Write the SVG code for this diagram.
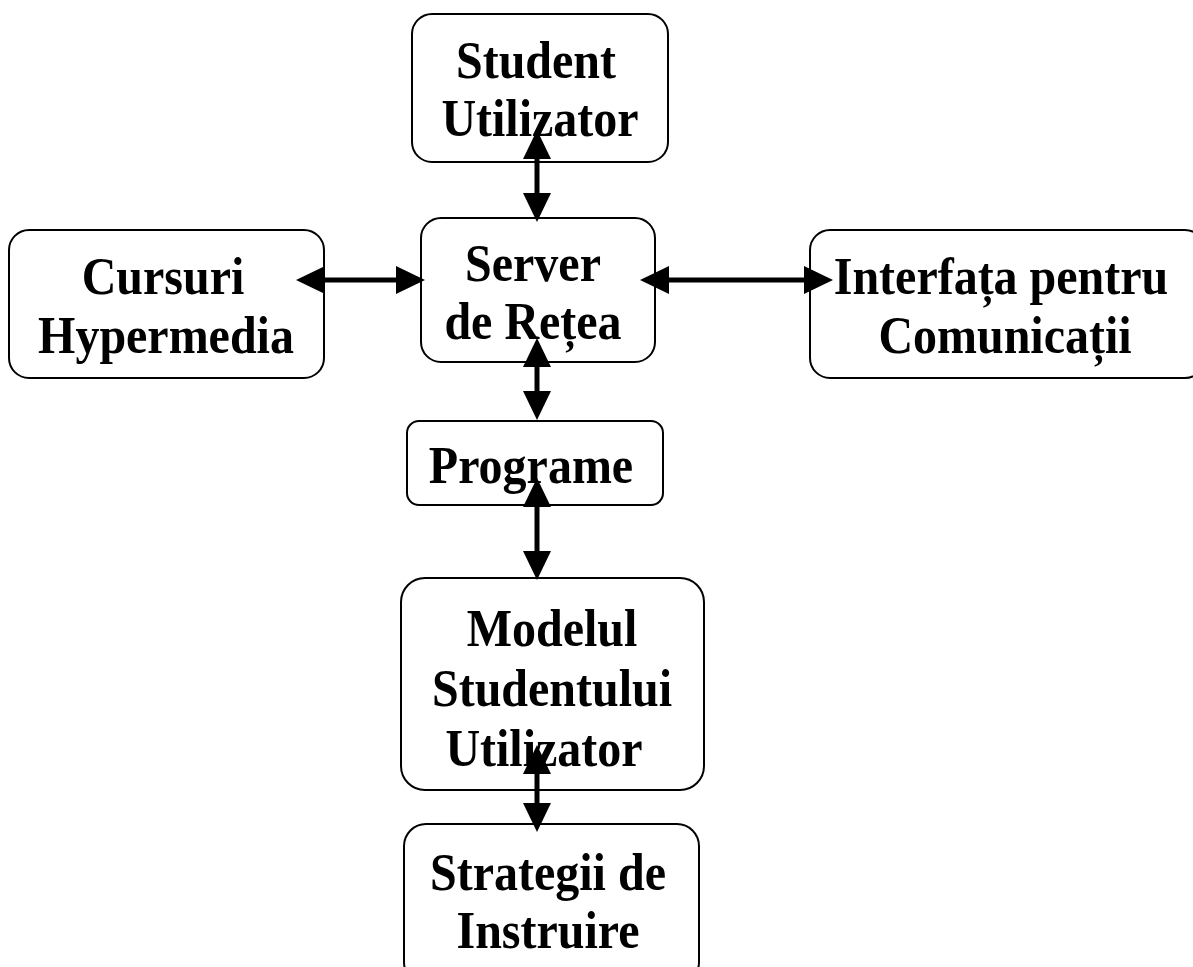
<svg xmlns="http://www.w3.org/2000/svg" width="1193" height="967" viewBox="0 0 1193 967">
<style>
.box{fill:#fff;stroke:#000;stroke-width:2}
.t{font-family:"Liberation Serif","Times New Roman",serif;font-weight:bold;font-size:48px;fill:#000;text-anchor:middle}
.c{stroke:#000;stroke-width:5;fill:none;marker-start:url(#ah);marker-end:url(#ah)}
</style>
<defs>
<marker id="ah" markerUnits="userSpaceOnUse" markerWidth="30" markerHeight="30" refX="0" refY="14" orient="auto-start-reverse" viewBox="0 0 30 28">
<path d="M0,0 L29,14 L0,28 z" fill="#000"/>
</marker>
</defs>
<g id="student">
<rect class="box" x="412" y="14" width="256" height="148" rx="20"/>
<text class="t" transform="translate(536,78) scale(1,1.1)">Student</text>
<text class="t" transform="translate(540,136) scale(1,1.1)">Utilizator</text>
</g>
<g id="cursuri">
<rect class="box" x="9" y="230" width="315" height="148" rx="20"/>
<text class="t" transform="translate(163,294) scale(1,1.1)">Cursuri</text>
<text class="t" transform="translate(166,353) scale(1,1.1)">Hypermedia</text>
</g>
<g id="server">
<rect class="box" x="421" y="218" width="234" height="144" rx="20"/>
<text class="t" transform="translate(533,281) scale(1,1.1)">Server</text>
<text class="t" transform="translate(533,339) scale(1,1.1)">de Rețea</text>
</g>
<g id="interfata">
<rect class="box" x="810" y="230" width="395" height="148" rx="20"/>
<text class="t" transform="translate(1001,294) scale(1,1.1)">Interfața pentru</text>
<text class="t" transform="translate(1005,353) scale(1,1.1)">Comunicații</text>
</g>
<g id="programe">
<rect class="box" x="407" y="421" width="256" height="84" rx="12"/>
<text class="t" transform="translate(531,483) scale(1,1.1)">Programe</text>
</g>
<g id="modelul">
<rect class="box" x="401" y="578" width="303" height="212" rx="24"/>
<text class="t" transform="translate(552,646) scale(1,1.1)">Modelul</text>
<text class="t" transform="translate(552,706) scale(1,1.1)">Studentului</text>
<text class="t" transform="translate(544,766) scale(1,1.1)">Utilizator</text>
</g>
<g id="strategii">
<rect class="box" x="404" y="824" width="295" height="160" rx="22"/>
<text class="t" transform="translate(548,890) scale(1,1.1)">Strategii de</text>
<text class="t" transform="translate(548,948) scale(1,1.1)">Instruire</text>
</g>
<g id="connectors">
<path class="c" d="M537,159 L537,193"/>
<path class="c" d="M325,280 L396,280"/>
<path class="c" d="M669,280 L804,280"/>
<path class="c" d="M537,367 L537,391"/>
<path class="c" d="M537,507 L537,551"/>
<path class="c" d="M537,774 L537,803"/>
</g>
</svg>
